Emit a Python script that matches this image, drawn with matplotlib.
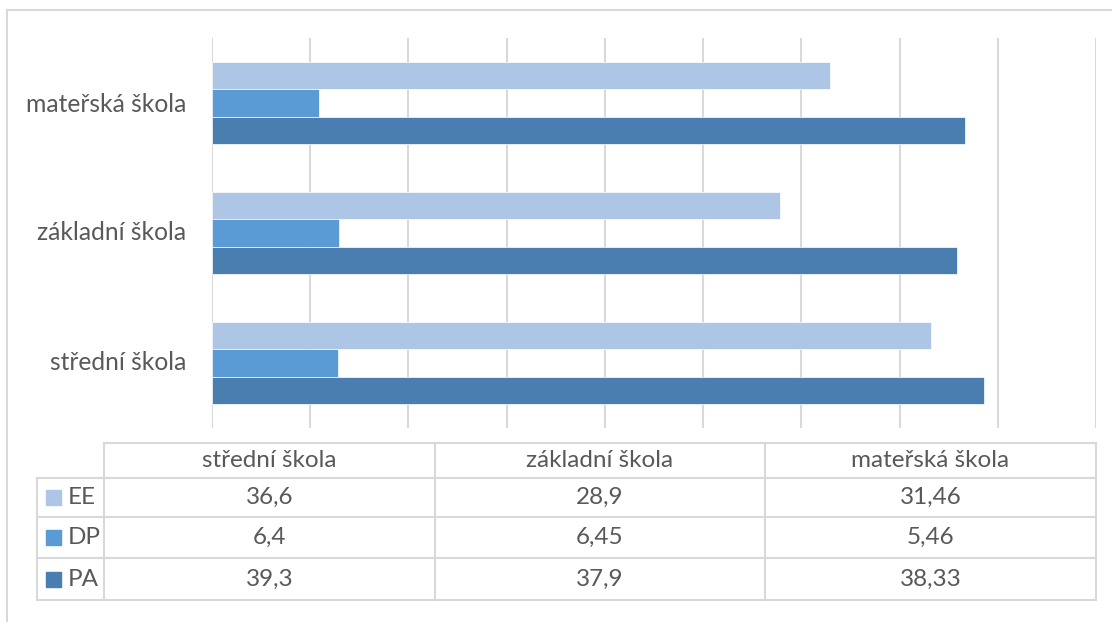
import numpy as np
import matplotlib
matplotlib.use("Agg")
import matplotlib.pyplot as plt
from matplotlib.patches import Rectangle

plt.rcParams['font.family'] = ['Lato', 'DejaVu Sans']

# data
categories = ["střední škola", "základní škola", "mateřská škola"]
series = ["EE", "DP", "PA"]
ee = [36.6, 28.9, 31.46]
dp = [6.4, 6.45, 5.46]
pa = [39.3, 37.9, 38.33]
labels_ee = ["36,6", "28,9", "31,46"]
labels_dp = ["6,4", "6,45", "5,46"]
labels_pa = ["39,3", "37,9", "38,33"]

colors = {"EE": "#AEC6E6", "DP": "#5B9BD5", "PA": "#4A7EB0"}
grid_c = "#D9D9D9"
text_c = "#595959"

W, H = 1112, 622
fig = plt.figure(figsize=(W / 100, H / 100), dpi=100)

# plot area (pixel coords -> figure fraction)
x0, x1, y0, y1 = 212, 1096, 38, 428
ax = fig.add_axes([x0 / W, 1 - y1 / H, (x1 - x0) / W, (y1 - y0) / H])

y = np.arange(len(categories))
h = 0.208
ax.barh(y + h, ee, height=h, color=colors["EE"], edgecolor="white", linewidth=0.5, zorder=3)
ax.barh(y, dp, height=h, color=colors["DP"], edgecolor="white", linewidth=0.5, zorder=3)
ax.barh(y - h, pa, height=h, color=colors["PA"], edgecolor="white", linewidth=0.5, zorder=3)

ax.set_xlim(0, 45)
ax.set_ylim(-0.5, 2.5)
ax.set_xticks(np.arange(0, 46, 5))
ax.set_xticklabels([])
ax.tick_params(length=0)
ax.grid(axis="x", color=grid_c, linewidth=1.5, zorder=0)
for s in ax.spines.values():
    s.set_visible(False)
ax.set_yticks(y)
ax.set_yticklabels([])

# overlay in pixel coords
ov = fig.add_axes([0, 0, 1, 1], facecolor="none")
ov.set_xlim(0, W)
ov.set_ylim(H, 0)
ov.axis("off")

# outer chart border
ov.plot([7, 7], [10, H], color=grid_c, lw=1.5)
ov.plot([7, W], [10, 10], color=grid_c, lw=1.5)

# category labels
cat_y = [363, 233, 104]
for c, cy in zip(categories, cat_y):
    ov.text(186, cy, c, ha="right", va="center", fontsize=17.7, color=text_c)

# data table
cols = [104, 435, 765, 1096]
rows = [443, 478, 517, 558, 600]
lw = 1.5
ov.plot([104, 1096], [rows[0]] * 2, color=grid_c, lw=lw)
for r in rows[1:]:
    ov.plot([37, 1096], [r, r], color=grid_c, lw=lw)
ov.plot([37, 37], [rows[1], rows[-1]], color=grid_c, lw=lw)
for c in cols:
    ov.plot([c, c], [rows[0], rows[-1]], color=grid_c, lw=lw)

fs = 17.5
for i, c in enumerate(categories):
    cx = (cols[i] + cols[i + 1]) / 2
    ov.text(cx, (rows[0] + rows[1]) / 2, c, ha="center", va="center", fontsize=fs, color=text_c)

table_rows = [("EE", labels_ee), ("DP", labels_dp), ("PA", labels_pa)]
for j, (name, vals) in enumerate(table_rows):
    cy = (rows[j + 1] + rows[j + 2]) / 2
    ov.add_patch(Rectangle((46, cy - 7.5), 15, 15, color=colors[name]))
    ov.text(68, cy, name, ha="left", va="center", fontsize=fs, color=text_c)
    for i, v in enumerate(vals):
        cx = (cols[i] + cols[i + 1]) / 2
        ov.text(cx, cy, v, ha="center", va="center", fontsize=fs, color=text_c)

fig.savefig("out.png", dpi=100, facecolor="white")
